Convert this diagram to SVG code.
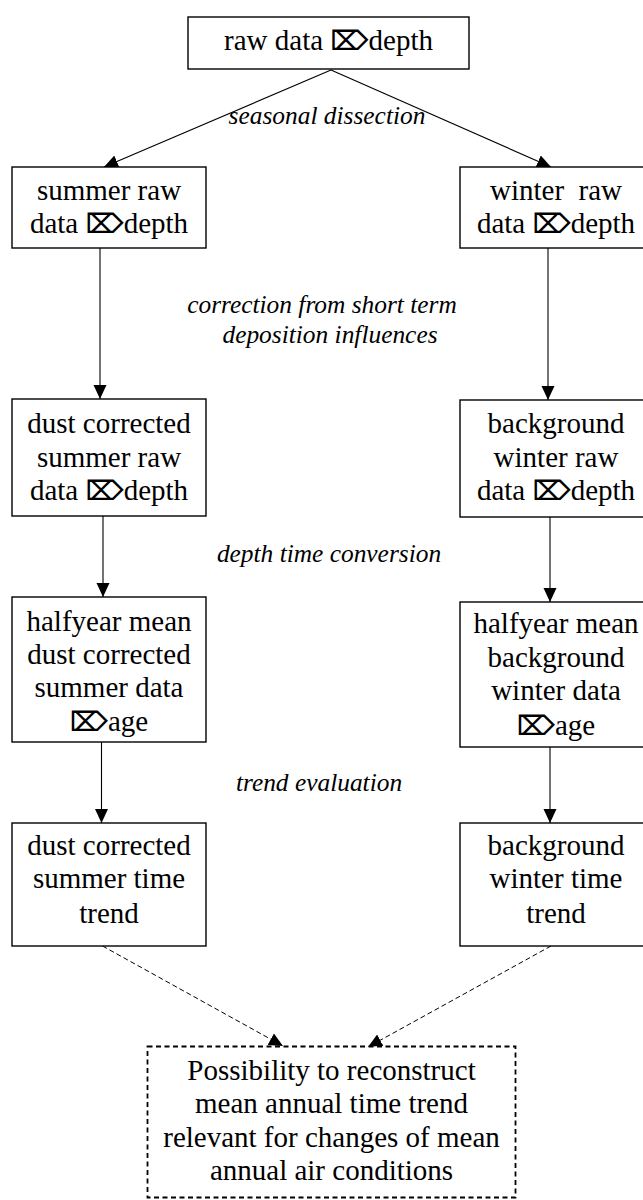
<svg xmlns="http://www.w3.org/2000/svg" width="643" height="1200" viewBox="0 0 643 1200">
<style>
.box{fill:#fff;stroke:#000;stroke-width:1.4}
.dbox{fill:#fff;stroke:#000;stroke-width:1.8;stroke-dasharray:5,3.5}
.t{font-family:"Liberation Serif","DejaVu Sans",serif;font-size:29px;text-anchor:middle;fill:#000}
.s{font-family:"DejaVu Sans",sans-serif;font-size:27px;font-weight:bold}
.l{font-family:"Liberation Serif",serif;font-size:25.4px;font-style:italic;text-anchor:middle;fill:#000}
.c{fill:none;stroke:#000;stroke-width:1.1}
.d{fill:none;stroke:#000;stroke-width:1;stroke-dasharray:5,3}
</style>
<defs>
<marker id="ah" markerUnits="userSpaceOnUse" markerWidth="14" markerHeight="14" viewBox="0 0 14 13" refX="14" refY="6.5" orient="auto">
<path d="M0,0 L14,6.5 L0,13 z" fill="#000"/>
</marker>
</defs>
<g id="connectors">
<line class="c" x1="331" y1="70" x2="104" y2="167" marker-end="url(#ah)"/>
<line class="c" x1="331" y1="70" x2="551" y2="167" marker-end="url(#ah)"/>
<line class="c" x1="100" y1="248" x2="100" y2="399" marker-end="url(#ah)"/>
<line class="c" x1="548" y1="248" x2="548" y2="400" marker-end="url(#ah)"/>
<line class="c" x1="103" y1="516" x2="103" y2="597" marker-end="url(#ah)"/>
<line class="c" x1="550" y1="517" x2="550" y2="602" marker-end="url(#ah)"/>
<line class="c" x1="101.5" y1="742" x2="101.5" y2="823" marker-end="url(#ah)"/>
<line class="c" x1="550" y1="747" x2="550" y2="823" marker-end="url(#ah)"/>
<line class="d" x1="102.5" y1="946" x2="283" y2="1046" marker-end="url(#ah)"/>
<line class="d" x1="551" y1="946" x2="368" y2="1047" marker-end="url(#ah)"/>
<text class="l" x="327" y="124">seasonal dissection</text>
<text class="l" x="322" y="313">correction from short term</text>
<text class="l" x="330" y="343">deposition influences</text>
<text class="l" x="329" y="562">depth time conversion</text>
<text class="l" x="319" y="791">trend evaluation</text>
</g>
<g id="raw">
<rect class="box" x="188" y="17" width="281" height="52"/>
<text class="t" x="328.5" y="50">raw data <tspan class="s">⌦</tspan>depth</text>
</g>
<g id="summer-raw">
<rect class="box" x="12" y="167" width="194" height="81"/>
<text class="t" x="109" y="200">summer raw</text>
<text class="t" x="109" y="233">data <tspan class="s">⌦</tspan>depth</text>
</g>
<g id="winter-raw">
<rect class="box" x="460" y="167" width="192" height="81"/>
<text class="t" x="556" y="200">winter&#160; raw</text>
<text class="t" x="556" y="233">data <tspan class="s">⌦</tspan>depth</text>
</g>
<g id="summer-dust">
<rect class="box" x="12" y="399" width="194" height="117"/>
<text class="t" x="109" y="433">dust corrected</text>
<text class="t" x="109" y="467">summer raw</text>
<text class="t" x="109" y="500">data <tspan class="s">⌦</tspan>depth</text>
</g>
<g id="winter-background">
<rect class="box" x="460" y="400" width="192" height="117"/>
<text class="t" x="556" y="433">background</text>
<text class="t" x="556" y="467">winter raw</text>
<text class="t" x="556" y="500">data <tspan class="s">⌦</tspan>depth</text>
</g>
<g id="summer-halfyear">
<rect class="box" x="12" y="597" width="194" height="145"/>
<text class="t" x="109" y="631">halfyear mean</text>
<text class="t" x="109" y="664">dust corrected</text>
<text class="t" x="109" y="697">summer data</text>
<text class="t" x="109" y="731"><tspan class="s">⌦</tspan>age</text>
</g>
<g id="winter-halfyear">
<rect class="box" x="460" y="602" width="192" height="145"/>
<text class="t" x="556" y="633">halfyear mean</text>
<text class="t" x="556" y="667">background</text>
<text class="t" x="556" y="700">winter data</text>
<text class="t" x="556" y="735"><tspan class="s">⌦</tspan>age</text>
</g>
<g id="summer-trend">
<rect class="box" x="12" y="823" width="194" height="123"/>
<text class="t" x="109" y="855">dust corrected</text>
<text class="t" x="109" y="888">summer time</text>
<text class="t" x="109" y="923">trend</text>
</g>
<g id="winter-trend">
<rect class="box" x="460" y="823" width="192" height="123"/>
<text class="t" x="556" y="855">background</text>
<text class="t" x="556" y="888">winter time</text>
<text class="t" x="556" y="923">trend</text>
</g>
<g id="annual">
<rect class="dbox" x="147.5" y="1046.5" width="368" height="151"/>
<text class="t" x="331.5" y="1080">Possibility to reconstruct</text>
<text class="t" x="331.5" y="1113">mean annual time trend</text>
<text class="t" x="331.5" y="1147">relevant for changes of mean</text>
<text class="t" x="331.5" y="1180">annual air conditions</text>
</g>
</svg>
